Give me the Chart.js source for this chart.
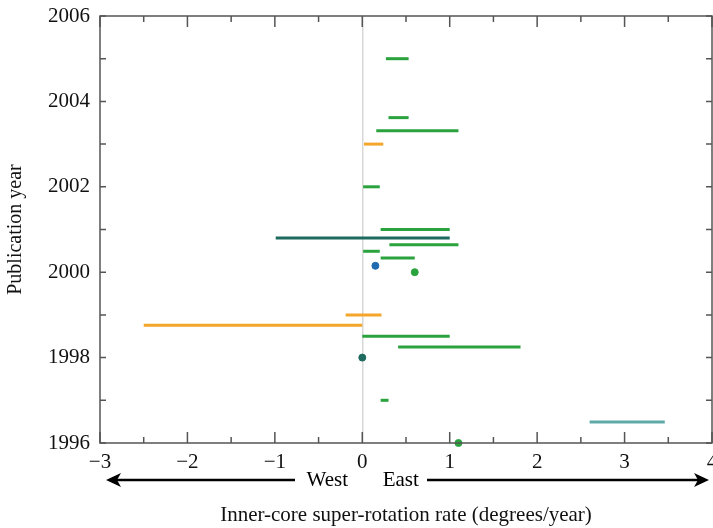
<!DOCTYPE html>
<html>
<head>
<meta charset="utf-8">
<script src="https://cdn.jsdelivr.net/npm/chart.js@4"></script>
<style>
  html, body { margin: 0; padding: 0; background: #fff; }
  #wrap { width: 713px; height: 528px; }
</style>
</head>
<body>
<div id="wrap"><canvas id="chart"></canvas></div>
<script>
// segments: publication year, start and end of rate range (deg/yr), group
const segYears = [2005.0, 2003.62, 2003.31, 2003.0, 2002.0, 2001.0, 2000.8, 2000.64, 2000.49, 2000.33, 1999.0, 1998.76, 1998.5, 1998.25, 1997.0, 1996.49];
const segStart = [0.27, 0.30, 0.16, 0.02, 0.01, 0.21, -0.99, 0.31, 0.01, 0.21, -0.19, -2.5, 0.0, 0.41, 0.21, 2.6];
const segEnd   = [0.53, 0.53, 1.10, 0.24, 0.20, 1.0, 1.0, 1.10, 0.20, 0.60, 0.22, 0.0, 1.0, 1.81, 0.30, 3.46];
const segGroup = ['A', 'A', 'A', 'B', 'A', 'A', 'C', 'A', 'A', 'A', 'B', 'B', 'A', 'A', 'A', 'E'];

// single estimates
const ptYears = [2000.15, 2000.0, 1998.0, 1996.0];
const ptRate  = [0.15, 0.6, 0.0, 1.1];
const ptGroup = ['D', 'A', 'C', 'A'];

const xTicks = [-3, -2, -1, 0, 1, 2, 3, 4];
const yTicks = [1996, 1998, 2000, 2002, 2004, 2006];

const groupColor = {
  A: '#2aa33e',
  B: '#f4a62a',
  C: '#1f6a5e',
  D: '#1f6bb0',
  E: '#5fa9a8',
};

const FONT = '"Liberation Serif", "Times New Roman", serif';

const datasets = [];
segYears.forEach((yr, i) => {
  datasets.push({
    data: [{ x: segStart[i], y: yr }, { x: segEnd[i], y: yr }],
    borderColor: groupColor[segGroup[i]],
    borderWidth: 3,
    borderCapStyle: 'butt',
    showLine: true,
    pointRadius: 0,
    clip: false,
  });
});
ptYears.forEach((yr, i) => {
  datasets.push({
    data: [{ x: ptRate[i], y: yr }],
    backgroundColor: groupColor[ptGroup[i]],
    borderColor: groupColor[ptGroup[i]],
    pointRadius: 3.5,
    showLine: false,
    clip: false,
  });
});

// inward ticks on all four sides, box, and the West/East arrows
const frame = {
  id: 'frame',
  afterDraw(chart) {
    const { ctx, chartArea: a, scales: { x, y } } = chart;
    ctx.save();
    ctx.strokeStyle = '#555';
    ctx.lineWidth = 1.5;
    ctx.beginPath();
    for (let v = -3; v <= 4; v += 0.5) {
      const px = x.getPixelForValue(v);
      const len = Number.isInteger(v) ? 11 : 6;
      ctx.moveTo(px, a.bottom); ctx.lineTo(px, a.bottom - len);
      ctx.moveTo(px, a.top); ctx.lineTo(px, a.top + len);
    }
    for (let v = 1996; v <= 2006; v++) {
      const py = y.getPixelForValue(v);
      ctx.moveTo(a.left, py); ctx.lineTo(a.left + 6, py);
      ctx.moveTo(a.right, py); ctx.lineTo(a.right - 6, py);
    }
    ctx.stroke();
    ctx.strokeRect(a.left, a.top, a.right - a.left, a.bottom - a.top);

    // arrows
    const ay = 480;
    const westX = x.getPixelForValue(-0.4);
    const eastX = x.getPixelForValue(0.44);
    ctx.fillStyle = '#000';
    ctx.font = '21px ' + FONT;
    ctx.textAlign = 'center';
    ctx.textBaseline = 'middle';
    ctx.fillText('West', westX, ay);
    ctx.fillText('East', eastX, ay);

    const l0 = 106, l1 = 295;
    const r0 = 427, r1 = 709;
    ctx.strokeStyle = '#000';
    ctx.lineWidth = 2.5;
    ctx.beginPath();
    ctx.moveTo(l0 + 8, ay); ctx.lineTo(l1, ay);
    ctx.moveTo(r0, ay); ctx.lineTo(r1 - 8, ay);
    ctx.stroke();
    ctx.beginPath();
    ctx.moveTo(l0, ay); ctx.lineTo(l0 + 15, ay - 7); ctx.lineTo(l0 + 11, ay); ctx.lineTo(l0 + 15, ay + 7); ctx.closePath();
    ctx.moveTo(r1, ay); ctx.lineTo(r1 - 15, ay - 7); ctx.lineTo(r1 - 11, ay); ctx.lineTo(r1 - 15, ay + 7); ctx.closePath();
    ctx.fill();
    ctx.restore();
  }
};

new Chart(document.getElementById('chart'), {
  type: 'scatter',
  data: { datasets },
  plugins: [frame],
  options: {
    responsive: true,
    maintainAspectRatio: false,
    animation: false,
    layout: { autoPadding: false, padding: { top: 16, right: 1, left: 0, bottom: 0 } },
    plugins: { legend: { display: false }, tooltip: { enabled: false } },
    scales: {
      x: {
        type: 'linear',
        min: -3, max: 4,
        afterBuildTicks: s => { s.ticks = xTicks.map(v => ({ value: v })); },
        afterFit: s => { s.height = 85; s.paddingLeft = 0; s.paddingRight = 0; },
        ticks: {
          color: '#111',
          font: { family: FONT, size: 21 },
          padding: 7,
          maxRotation: 0,
          callback: v => (v < 0 ? '\u2212' + Math.abs(v) : String(v)),
        },
        grid: {
          drawTicks: false,
          lineWidth: 1.5,
          color: c => (c.tick && c.tick.value === 0 ? '#d8d8d8' : 'rgba(0,0,0,0)'),
        },
        border: { display: false },
        title: {
          display: true,
          text: 'Inner-core super-rotation rate (degrees/year)',
          color: '#111',
          font: { family: FONT, size: 21 },
          padding: { top: 0, bottom: 0 },
        },
      },
      y: {
        type: 'linear',
        min: 1996, max: 2006,
        afterBuildTicks: s => { s.ticks = yTicks.map(v => ({ value: v })); },
        afterFit: s => { s.width = 100; s.paddingTop = 0; s.paddingBottom = 0; },
        ticks: {
          color: '#111',
          font: { family: FONT, size: 21 },
          padding: 10,
          callback: v => String(v),
        },
        grid: { display: false, drawTicks: false },
        border: { display: false },
        title: {
          display: true,
          text: 'Publication year',
          color: '#111',
          font: { family: FONT, size: 20 },
          padding: { top: 4, bottom: 4 },
        },
      },
    },
  },
});
</script>
</body>
</html>
